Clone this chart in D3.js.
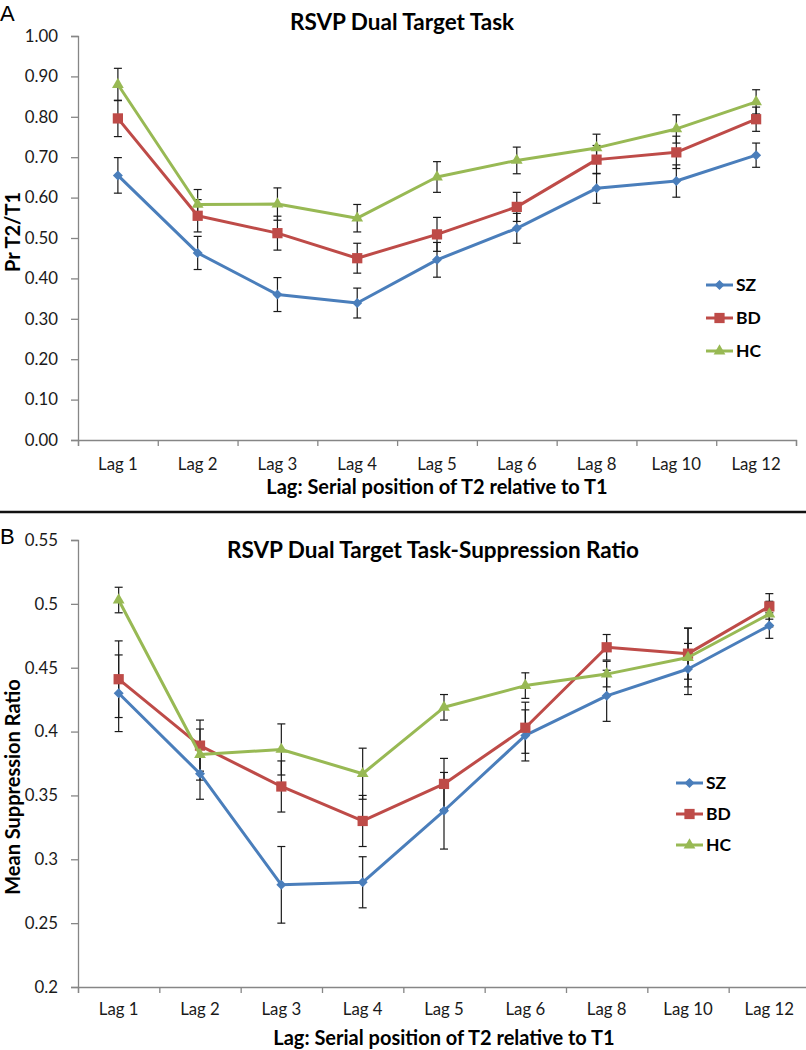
<!DOCTYPE html>
<html>
<head>
<meta charset="utf-8">
<script src="https://cdn.jsdelivr.net/npm/d3@7"></script>
<style>
  body { margin: 0; background: #fff; }
  text { font-family: Lato, "Open Sans", sans-serif; }
  .tick text { font-size: 16.8px; fill: #1a1a1a; }
  .axisTitle { font-size: 20px; font-weight: bold; }
  .chartTitle { font-size: 22.5px; font-weight: bold; }
</style>
</head>
<body>
<div id="chart"></div>
<script>
var lags = ["Lag 1", "Lag 2", "Lag 3", "Lag 4", "Lag 5", "Lag 6", "Lag 8", "Lag 10", "Lag 12"];
var groups = ["SZ", "BD", "HC"];

// Panel A: Pr T2/T1
var prSZ = [0.655, 0.463, 0.360, 0.339, 0.446, 0.524, 0.623, 0.641, 0.705];
var prBD = [0.796, 0.555, 0.512, 0.450, 0.509, 0.577, 0.694, 0.712, 0.794];
var prHC = [0.880, 0.583, 0.584, 0.549, 0.651, 0.692, 0.723, 0.770, 0.837];
var prErrSZ = [0.044, 0.041, 0.042, 0.037, 0.043, 0.037, 0.037, 0.040, 0.030];
var prErrBD = [0.045, 0.040, 0.042, 0.037, 0.042, 0.036, 0.035, 0.040, 0.030];
var prErrHC = [0.040, 0.037, 0.040, 0.034, 0.038, 0.033, 0.034, 0.035, 0.030];
var prTicks = [0, 0.1, 0.2, 0.3, 0.4, 0.5, 0.6, 0.7, 0.8, 0.9, 1.0];

// Panel B: suppression ratio
var srSZ = [0.430, 0.367, 0.280, 0.282, 0.338, 0.397, 0.428, 0.449, 0.483];
var srBD = [0.441, 0.389, 0.357, 0.330, 0.359, 0.403, 0.466, 0.461, 0.498];
var srHC = [0.503, 0.382, 0.386, 0.367, 0.419, 0.436, 0.445, 0.458, 0.492];
var srErrSZ = [0.030, 0.020, 0.030, 0.020, 0.030, 0.020, 0.020, 0.020, 0.010];
var srErrBD = [0.030, 0.020, 0.020, 0.020, 0.020, 0.020, 0.010, 0.020, 0.010];
var srErrHC = [0.010, 0.020, 0.020, 0.020, 0.010, 0.010, 0.010, 0.023, 0.010];
var srTicks = [0.2, 0.25, 0.3, 0.35, 0.4, 0.45, 0.5, 0.55];

var colors = { SZ: "#4a7ebb", BD: "#be4b48", HC: "#98b954" };
// Excel-style markers: diamond is a square turned 45 degrees
var symbols = { SZ: d3.symbolSquare, BD: d3.symbolSquare, HC: d3.symbolTriangle };
var symSizes = { SZ: 50, BD: 105, HC: 60 };
var symRotate = { SZ: 45, BD: 0, HC: 0 };

var svg = d3.select("#chart").append("svg")
    .attr("width", 806)
    .attr("height", 1050);

function markerAt(sel, name, px, py) {
    sel.append("path")
        .attr("transform", "translate(" + px + "," + py + ") rotate(" + symRotate[name] + ")")
        .attr("d", d3.symbol().type(symbols[name]).size(symSizes[name]))
        .attr("fill", colors[name]);
}

function drawPanel(cfg) {
    var g = svg.append("g");

    var x = d3.scaleBand().domain(lags).range([cfg.x0, cfg.x1]).padding(0);
    var y = d3.scaleLinear().domain(cfg.domain).range([cfg.yBottom, cfg.yTop]);

    // y axis
    var yAxis = d3.axisLeft(y).tickValues(cfg.ticks).tickFormat(cfg.fmt).tickSize(7).tickPadding(13);
    var ya = g.append("g").attr("transform", "translate(" + cfg.x0 + ",0)").call(yAxis);
    ya.select(".domain").attr("stroke", "#868686").attr("stroke-width", 1.3);
    ya.selectAll(".tick line").attr("stroke", "#868686").attr("stroke-width", 1.3);

    // x axis: tick marks on band boundaries, labels at centres
    var xb = d3.scaleLinear().domain([0, lags.length]).range([cfg.x0, cfg.x1]);
    var xTicks = g.append("g").attr("transform", "translate(0," + cfg.yBottom + ")")
        .call(d3.axisBottom(xb).ticks(lags.length).tickSize(6).tickFormat(""));
    xTicks.select(".domain").attr("stroke", "#868686").attr("stroke-width", 1.3);
    xTicks.selectAll(".tick line").attr("stroke", "#868686").attr("stroke-width", 1.3);

    var xLabels = g.append("g").attr("transform", "translate(0," + cfg.yBottom + ")")
        .call(d3.axisBottom(x).tickSize(0).tickPadding(cfg.labelPad));
    xLabels.select(".domain").remove();

    // titles
    g.append("text").attr("class", "chartTitle")
        .attr("x", cfg.titleX).attr("y", cfg.titleY)
        .attr("text-anchor", "middle").text(cfg.title);
    g.append("text").attr("class", "axisTitle")
        .attr("x", cfg.xTitleX).attr("y", cfg.xTitleY)
        .attr("text-anchor", "middle").text("Lag: Serial position of T2 relative to T1");
    g.append("text").attr("class", "axisTitle")
        .attr("transform", "translate(" + 20 + "," + cfg.yTitleY + ") rotate(-90)")
        .attr("text-anchor", "middle").text(cfg.yTitle);
    g.append("text")
        .attr("x", 0).attr("y", cfg.letterY)
        .style("font-size", "22px").style("font-family", "Liberation Sans, Arial, sans-serif")
        .text(cfg.letter);

    var cx = function(d, i) { return x(lags[i]) + x.bandwidth() / 2; };
    var line = d3.line().x(cx).y(function(d) { return y(d); });

    cfg.series.forEach(function(s) {
        // error bars
        var eb = g.append("g").attr("stroke", "#1a1a1a").attr("stroke-width", 1.2);
        eb.selectAll("line.v").data(s.values).enter().append("line")
            .attr("x1", cx).attr("x2", cx)
            .attr("y1", function(d, i) { return y(d + s.err[i]); })
            .attr("y2", function(d, i) { return y(d - s.err[i]); });
        [1, -1].forEach(function(sign) {
            eb.selectAll("line.c" + sign).data(s.values).enter().append("line")
                .attr("x1", function(d, i) { return cx(d, i) - 4; })
                .attr("x2", function(d, i) { return cx(d, i) + 4; })
                .attr("y1", function(d, i) { return y(d + sign * s.err[i]); })
                .attr("y2", function(d, i) { return y(d + sign * s.err[i]); });
        });
    });

    cfg.series.forEach(function(s) {
        g.append("path").datum(s.values)
            .attr("fill", "none")
            .attr("stroke", colors[s.name])
            .attr("stroke-width", 3)
            .attr("stroke-linejoin", "round")
            .attr("d", line);
        var mg = g.append("g");
        s.values.forEach(function(d, i) { markerAt(mg, s.name, cx(d, i), y(d)); });
    });

    // legend
    var leg = g.append("g");
    groups.forEach(function(name, i) {
        var ly = cfg.legY + i * cfg.legStep;
        leg.append("line")
            .attr("x1", cfg.legX).attr("x2", cfg.legX + 27)
            .attr("y1", ly).attr("y2", ly)
            .attr("stroke", colors[name]).attr("stroke-width", 3);
        markerAt(leg, name, cfg.legX + 13.5, ly);
        leg.append("text")
            .attr("x", cfg.legX + 30).attr("y", ly)
            .attr("dy", "0.36em")
            .style("font-size", "17.5px").style("font-weight", "bold")
            .text(name);
    });
}

drawPanel({
    x0: 78, x1: 796, yTop: 36, yBottom: 440,
    domain: [0, 1], ticks: prTicks, fmt: d3.format(".2f"),
    labelPad: 18,
    title: "RSVP Dual Target Task", titleX: 402, titleY: 30,
    xTitleX: 437, xTitleY: 494,
    yTitle: "Pr T2/T1", yTitleY: 232,
    letter: "A", letterY: 21,
    legX: 706, legY: 285, legStep: 33,
    series: [
        { name: "SZ", values: prSZ, err: prErrSZ },
        { name: "BD", values: prBD, err: prErrBD },
        { name: "HC", values: prHC, err: prErrHC }
    ]
});

drawPanel({
    x0: 78, x1: 810, yTop: 540, yBottom: 987,
    domain: [0.2, 0.55], ticks: srTicks, fmt: function(d) { return String(+d.toFixed(2)); },
    labelPad: 16,
    title: "RSVP Dual Target Task-Suppression Ratio", titleX: 433, titleY: 558,
    xTitleX: 444, xTitleY: 1045,
    yTitle: "Mean Suppression Ratio", yTitleY: 787,
    letter: "B", letterY: 544,
    legX: 676, legY: 783, legStep: 31,
    series: [
        { name: "SZ", values: srSZ, err: srErrSZ },
        { name: "BD", values: srBD, err: srErrBD },
        { name: "HC", values: srHC, err: srErrHC }
    ]
});

// separator between panels
svg.append("line")
    .attr("x1", 0).attr("x2", 806)
    .attr("y1", 512).attr("y2", 512)
    .attr("stroke", "#111").attr("stroke-width", 2.5);
</script>
</body>
</html>
